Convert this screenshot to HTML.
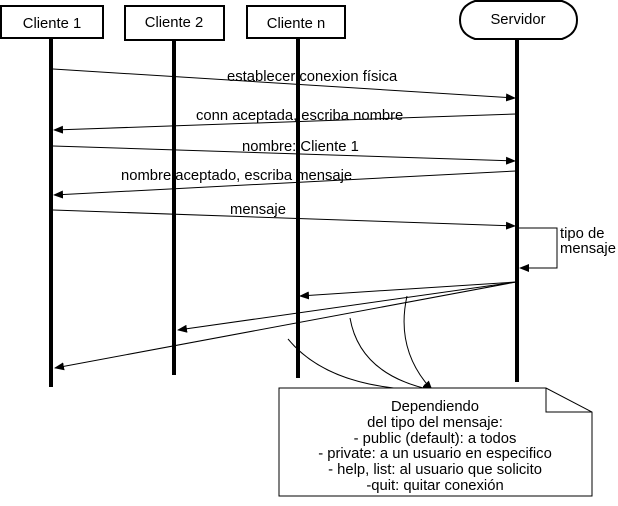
<!DOCTYPE html>
<html><head><meta charset="utf-8"><style>
body{margin:0;background:#fff;width:618px;height:501px;overflow:hidden}
svg text{font-family:"Liberation Sans",Arial,sans-serif;font-size:14.8px;fill:#000}
</style></head><body>
<svg width="618" height="501" viewBox="0 0 618 501" xmlns="http://www.w3.org/2000/svg">
<defs>
<marker id="a" markerWidth="10" markerHeight="8" refX="9" refY="4" orient="auto" markerUnits="userSpaceOnUse">
<path d="M0,0 L10,4 L0,8 z" fill="#000"/></marker>
</defs>
<g fill="#fff" stroke="#000" stroke-width="2">
<rect x="1" y="6" width="102" height="32"/>
<rect x="125" y="6" width="99" height="34"/>
<rect x="247" y="6" width="98" height="32"/>
<path d="M475,1 L562,1 Q577,6 577,20 Q577,34 562,39 L475,39 Q460,34 460,20 Q460,6 475,1 z"/>
</g>
<text x="52" y="28" text-anchor="middle">Cliente 1</text>
<text x="174" y="27" text-anchor="middle">Cliente 2</text>
<text x="296" y="28" text-anchor="middle">Cliente n</text>
<text x="518" y="24" text-anchor="middle">Servidor</text>
<g stroke="#000" stroke-width="4">
<line x1="51" y1="38" x2="51" y2="387"/>
<line x1="174" y1="40" x2="174" y2="375"/>
<line x1="298" y1="38" x2="298" y2="378"/>
<line x1="517" y1="39" x2="517" y2="382"/>
</g>
<g stroke="#000" stroke-width="1" fill="none" marker-end="url(#a)">
<line x1="53" y1="69" x2="515" y2="98"/>
<line x1="516" y1="114" x2="54" y2="130"/>
<line x1="53" y1="146" x2="515" y2="161"/>
<line x1="516" y1="171" x2="54" y2="195"/>
<line x1="53" y1="210" x2="515" y2="226"/>
<polyline points="517,228 557,228 557,268 520,268"/>
<line x1="516" y1="282" x2="300" y2="296"/>
<line x1="516" y1="282" x2="178" y2="330"/>
<line x1="516" y1="282" x2="55" y2="368"/>
<path d="M407,296 Q395,350 432,390"/>
<path d="M350,318 Q360,375 432,390"/>
<path d="M288,339 Q330,390 432,390"/>
</g>
<text x="227" y="81">establecer conexion física</text>
<text x="196" y="120">conn aceptada, escriba nombre</text>
<text x="242" y="151">nombre: Cliente 1</text>
<text x="121" y="180">nombre aceptado, escriba mensaje</text>
<text x="230" y="214">mensaje</text>
<text x="560" y="238">tipo de</text>
<text x="560" y="253">mensaje</text>
<path d="M279,388 L546,388 L592,412 L592,496 L279,496 z" fill="#fff" stroke="#000" stroke-width="1"/>
<path d="M546,388 L546,412 L592,412" fill="none" stroke="#000" stroke-width="1"/>
<g text-anchor="middle">
<text x="435" y="411">Dependiendo</text>
<text x="435" y="427">del tipo del mensaje:</text>
<text x="435" y="443">- public (default): a todos</text>
<text x="435" y="458">- private: a un usuario en especifico</text>
<text x="435" y="474">- help, list: al usuario que solicito</text>
<text x="435" y="490">-quit: quitar conexión</text>
</g>
</svg>
</body></html>
